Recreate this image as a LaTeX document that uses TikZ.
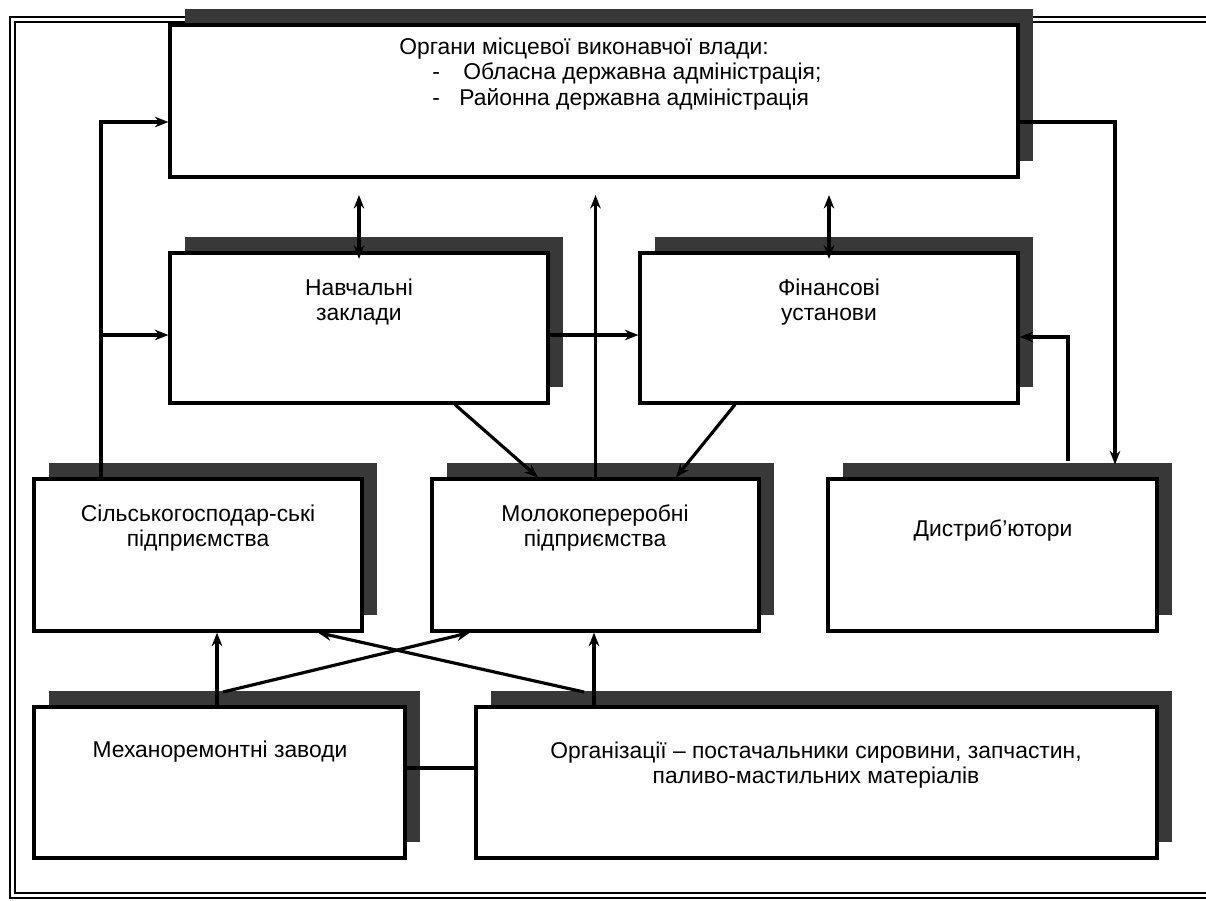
\documentclass[tikz,border=0pt]{standalone}
\usepackage{fontspec}
\setmainfont{Liberation Sans}
\usetikzlibrary{arrows.meta,fit,calc}
\newcommand\shbox[5]{%
  \fill[shadowc] (#2+15,#3-16) rectangle (#4+15,#5-16);
  \node[boxst,fit={(#2,#3) (#4,#5)}] (#1) {};
}
\begin{document}
\begin{tikzpicture}[x=0.02cm,y=-0.02cm,
  boxst/.style={draw=black,line width=1.8pt,fill=white,inner sep=0pt},
  shadowc/.style={fill=black!78},
  txt/.style={font=\fontsize{13}{14.6}\selectfont,align=center,inner sep=0pt},
  conn/.style={line width=1.8pt},
  arr/.style={conn,-{Stealth[length=0.27cm,width=0.21cm]}},
  barr/.style={conn,{Stealth[length=0.27cm,width=0.21cm]}-{Stealth[length=0.27cm,width=0.21cm]}},
]
\useasboundingbox (0,0) rectangle (1206,900);
\fill[white] (0,0) rectangle (1206,900);
% outer double frame
\draw[line width=0.7pt] (10,17) rectangle (1230,898);
\draw[line width=0.7pt] (15,22) rectangle (1225,893);
% boxes
\shbox{org}{170}{25}{1018}{177}
\shbox{nav}{170}{253}{548}{403}
\shbox{fin}{640}{253}{1018}{403}
\shbox{silg}{34}{479}{362}{631}
\shbox{mol}{432}{479}{759}{631}
\shbox{dis}{828}{479}{1157}{631}
\shbox{mech}{34}{707}{405}{858}
\shbox{post}{476}{707}{1157}{858}
% texts
\node[txt,anchor=base] (orgT1) at (584,54) {Органи місцевої виконавчої влади:};
\node[txt,anchor=base west] (orgD1) at (432,79) {-};
\node[txt,anchor=base west] (orgT2) at (463,79) {Обласна державна адміністрація;};
\node[txt,anchor=base west] (orgD2) at (432,105) {-};
\node[txt,anchor=base west] (orgT3) at (459,105) {Районна державна адміністрація};
\node[txt] (navT) at (359,302) {Навчальні\\заклади};
\node[txt] (finT) at (829,302) {Фінансові\\установи};
\node[txt] (silgT) at (198,528) {Сільськогосподар-ські\\підприємства};
\node[txt] (molT) at (595,528) {Молокопереробні\\підприємства};
\node[txt] (disT) at (993,530) {Дистриб’ютори};
\node[txt] (mechT) at (220,752) {Механоремонтні заводи};
\node[txt] (postT) at (816,765) {Організації – постачальники сировини, запчастин,\\паливо-мастильних матеріалів};
% helper coordinates
\coordinate (tr) at (101,0);
\coordinate (yA) at (0,122);
\coordinate (yB) at (0,335);
\coordinate (yB2) at (0,337);
\coordinate (yT) at (0,195);
\coordinate (yM) at (0,768);
\coordinate (d1) at (455,0);
\coordinate (d2) at (538,0);
\coordinate (d3) at (735,0);
\coordinate (d4) at (676,0);
\coordinate (v1) at (217,0);
\coordinate (v2) at (594,0);
\coordinate (c2) at (470,0);
\coordinate (c3) at (318,0);
\coordinate (mS) at (223,692);
\coordinate (pS) at (584,692);
\coordinate (xR) at (1115,0);
\coordinate (xL) at (1068,0);
% connectors
\draw[arr] (silg.north -| tr) |- (org.west |- yA);
\draw[arr] (tr |- yB) -- (nav.west |- yB);
\draw[arr] (nav.east |- yB) -- (fin.west |- yB);
\draw[barr] (nav.north |- yT) -- ([yshift=-0.15cm]nav.north);
\draw[barr] (fin.north |- yT) -- ([yshift=-0.15cm]fin.north);
\draw[arr] (mol.north) -- (mol.north |- yT);
\draw[arr] (nav.south -| d1) -- (mol.north -| d2);
\draw[arr] (fin.south -| d3) -- (mol.north -| d4);
\draw[arr] (mech.north -| v1) -- (silg.south -| v1);
\draw[arr] (post.north -| v2) -- (mol.south -| v2);
\draw[arr] (mS) -- (mol.south -| c2);
\draw[arr] (pS) -- (silg.south -| c3);
\draw[conn] (mech.east |- yM) -- (post.west |- yM);
\draw[arr] (org.east |- yA) -| ($(dis.north -| xR)+(0,-13)$);
\draw[arr] ($(dis.north -| xL)+(0,-16)$) |- (fin.east |- yB2);
\end{tikzpicture}
\end{document}
